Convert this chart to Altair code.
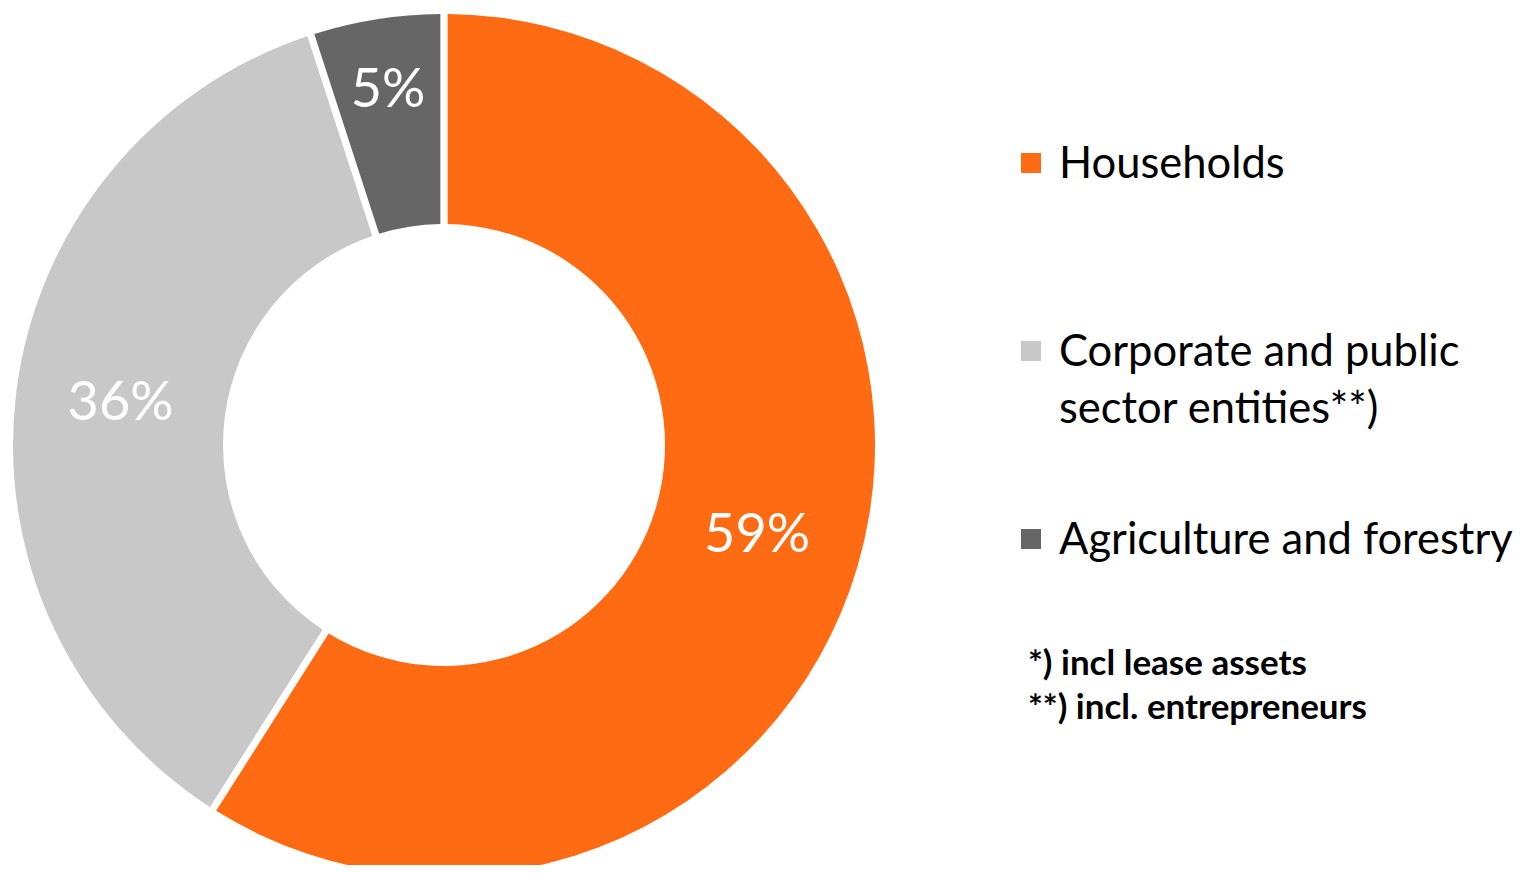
import altair as alt
import pandas as pd

# ---- data ----
sectors = ["Households", "Corporate and public sector entities**)", "Agriculture and forestry"]
shares = [59, 36, 5]
colors = ["#FF6B12", "#C8C8C8", "#666666"]
footnotes = ["*) incl lease assets", "**) incl. entrepreneurs"]

df = pd.DataFrame({"sector": sectors, "share": shares, "order": list(range(len(sectors)))})
notes_df = pd.DataFrame({"note": ["\n".join(footnotes)]})

FONT = "Lato"
CX, CY = 436, 437          # donut centre inside the view
R_OUT, R_IN = 431, 221

color = alt.Color("sector:N", scale=alt.Scale(domain=sectors, range=colors), legend=None)
theta_scale = alt.Scale(domain=[0, 100])

base = alt.Chart(df)

arcs = base.mark_arc(outerRadius=R_OUT, innerRadius=R_IN, padAngle=0.015).encode(
    theta=alt.Theta("share:Q", stack=True, scale=theta_scale),
    order=alt.Order("order:Q"),
    color=color,
    x=alt.value(CX), y=alt.value(CY),
)

labels = base.transform_window(
    cum="sum(share)", sort=[alt.SortField("order")], frame=[None, 0]
).transform_calculate(
    mid="datum.cum - datum.share / 2",
    label="datum.share + '%'",
    rpos="datum.share < 10 ? 358 : 326",
).mark_text(font=FONT, fontSize=54, color="white", baseline="middle", align="center").encode(
    theta=alt.Theta("mid:Q", stack=None, scale=theta_scale),
    radius=alt.Radius("rpos:Q", scale=None),
    text="label:N",
    x=alt.value(CX), y=alt.value(CY),
)

leg_y = alt.Y("sector:N", sort=sectors, axis=None,
              scale=alt.Scale(type="point", range=[155, 531], padding=0))

squares = base.mark_square(size=400, opacity=1).encode(
    x=alt.value(1023), y=leg_y, color=color,
)

leg_text = base.transform_calculate(
    lab="replace(datum.sector, 'public ', 'public\\n')"
).mark_text(align="left", baseline="alphabetic", dy=15, font=FONT, fontSize=43.5,
            lineBreak="\n", lineHeight=57, color="black").encode(
    x=alt.value(1051), y=leg_y, text="lab:N",
)

notes = alt.Chart(notes_df).mark_text(
    align="left", baseline="alphabetic", font=FONT, fontSize=35, fontWeight="bold",
    lineBreak="\n", lineHeight=44, color="black",
).encode(x=alt.value(1020), y=alt.value(667), text="note:N")

chart = alt.layer(arcs, labels, squares, leg_text, notes).properties(
    width=1512, height=857, padding=0,
    autosize=alt.AutoSizeParams(type="none"),
    background="white",
).configure_view(stroke=None)

chart.save("out.html", embed_options={"renderer": "svg", "actions": False})
